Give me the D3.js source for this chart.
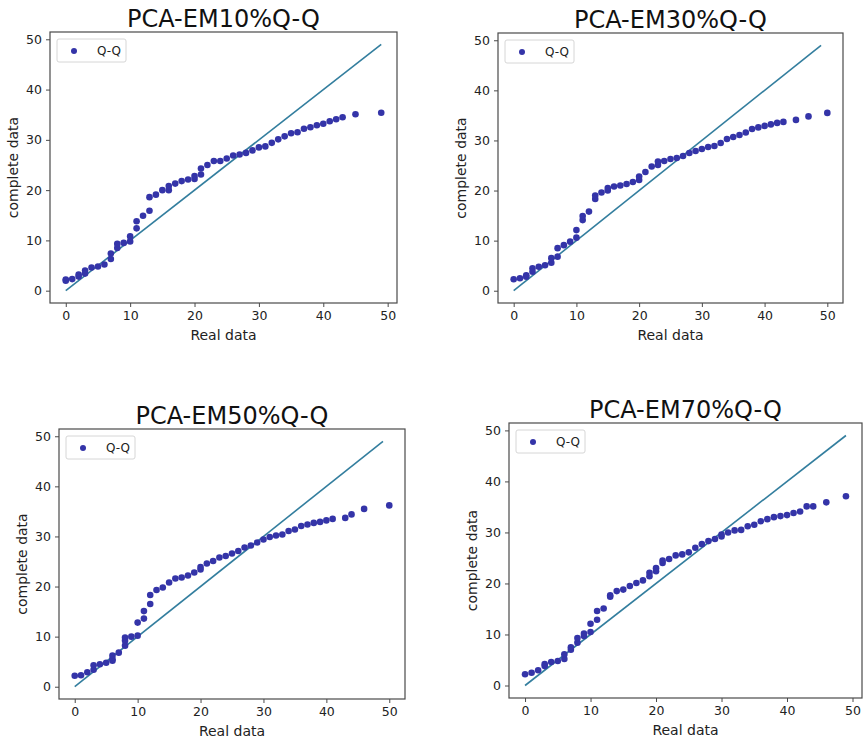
<!DOCTYPE html>
<html>
<head>
<meta charset="utf-8">
<script src="https://cdn.jsdelivr.net/npm/d3@7/dist/d3.min.js"></script>
<style>
  body { margin: 0; background: #fff; }
  svg { font-family: "DejaVu Sans", sans-serif; }
</style>
</head>
<body>
<div id="chart"></div>
<script>
// chart titles
var titles = ["PCA-EM10%Q-Q", "PCA-EM30%Q-Q", "PCA-EM50%Q-Q", "PCA-EM70%Q-Q"];
var ticks = [0, 10, 20, 30, 40, 50];

// reference line y = x
var refX = [0, 49];

// 10%
var x10 = [0, 0, 1, 2, 2, 3, 3, 4, 5, 6, 7, 7, 8, 8, 9, 10, 10, 11, 11, 12, 13, 13, 14, 15, 16, 16, 17, 18, 19, 20, 20, 21, 21, 22, 23, 24, 25, 26, 27, 28, 29, 30, 31, 32, 33, 34, 35, 36, 37, 38, 39, 40, 41, 42, 43, 45, 49];
var y10 = [2.2, 2.0, 2.3, 2.8, 3.2, 4.0, 3.4, 4.6, 4.8, 5.2, 6.3, 7.4, 8.5, 9.3, 9.5, 9.8, 10.8, 12.4, 13.8, 14.9, 15.9, 18.6, 19.1, 20.0, 20.0, 20.8, 21.3, 21.8, 22.1, 22.2, 22.8, 23.1, 24.3, 25.0, 25.8, 25.8, 26.3, 26.9, 27.1, 27.4, 27.9, 28.5, 28.7, 29.4, 30.1, 30.7, 31.3, 31.5, 32.2, 32.5, 32.9, 33.2, 33.7, 34.1, 34.5, 35.1, 35.4];

// 30%
var x30 = [0, 1, 2, 2, 3, 3, 4, 5, 6, 6, 7, 7, 8, 9, 10, 10, 11, 11, 12, 13, 13, 14, 15, 15, 16, 17, 18, 19, 20, 20, 21, 22, 23, 23, 24, 25, 26, 27, 28, 29, 30, 31, 32, 33, 34, 35, 36, 37, 38, 39, 40, 41, 42, 43, 45, 47, 50];
var y30 = [2.3, 2.5, 3.1, 2.8, 4.5, 3.8, 4.8, 5.1, 5.6, 6.5, 6.8, 8.5, 9.1, 9.8, 10.6, 12.1, 14.1, 14.9, 15.8, 18.3, 19.0, 19.6, 20.0, 20.5, 20.8, 21.0, 21.3, 21.7, 22.1, 22.8, 23.7, 24.8, 25.1, 25.8, 25.9, 26.3, 26.5, 26.9, 27.5, 27.9, 28.3, 28.7, 28.9, 29.5, 30.3, 30.7, 31.1, 31.6, 32.3, 32.6, 32.9, 33.2, 33.5, 33.7, 34.1, 34.8, 35.5];

// 50%
var x50 = [0, 1, 2, 3, 3, 4, 5, 6, 6, 6, 7, 8, 8, 8, 9, 10, 10, 11, 11, 12, 12, 13, 14, 15, 16, 17, 18, 19, 20, 20, 21, 22, 23, 24, 25, 26, 27, 28, 29, 30, 31, 32, 33, 34, 35, 36, 37, 38, 39, 40, 41, 43, 44, 46, 50];
var y50 = [2.2, 2.3, 2.9, 3.4, 4.3, 4.5, 4.8, 5.2, 5.5, 6.2, 6.8, 8.2, 9.2, 9.8, 10.0, 10.2, 12.8, 13.6, 15.1, 16.5, 18.3, 19.3, 19.8, 20.8, 21.6, 21.8, 22.2, 22.8, 23.4, 23.9, 24.6, 25.1, 25.8, 26.1, 26.6, 27.1, 27.8, 28.2, 28.8, 29.4, 29.9, 30.2, 30.4, 31.1, 31.4, 32.1, 32.4, 32.7, 32.9, 33.2, 33.5, 33.7, 34.4, 35.5, 36.2];

// 70%
var x70 = [0, 1, 2, 3, 3, 4, 5, 6, 6, 7, 7, 8, 8, 9, 9, 10, 10, 11, 11, 12, 13, 13, 14, 15, 16, 17, 18, 19, 19, 20, 20, 21, 21, 22, 23, 24, 25, 26, 27, 28, 29, 30, 30, 31, 32, 33, 34, 35, 36, 37, 38, 39, 40, 41, 42, 43, 44, 46, 49];
var y70 = [2.2, 2.5, 3.0, 3.8, 4.2, 4.6, 4.8, 5.2, 6.1, 7.0, 7.5, 8.4, 9.3, 9.7, 10.2, 10.5, 12.1, 12.9, 14.6, 15.1, 17.4, 17.7, 18.5, 18.8, 19.5, 20.1, 20.6, 21.4, 22.1, 22.4, 23.0, 24.0, 24.5, 24.8, 25.5, 25.7, 26.1, 27.0, 27.7, 28.3, 28.7, 29.2, 29.6, 30.0, 30.4, 30.5, 31.2, 31.5, 32.2, 32.6, 33.0, 33.2, 33.4, 33.8, 34.1, 35.1, 35.1, 35.9, 37.1];

var seriesX = [x10, x30, x50, x70];
var seriesY = [y10, y30, y50, y70];

// plot boxes in pixels: left, top, right, bottom
var boxes = [
    { left: 50,  top: 32,  right: 397, bottom: 303 },
    { left: 498, top: 33,  right: 843, bottom: 303 },
    { left: 59,  top: 429, right: 405, bottom: 699 },
    { left: 509, top: 423, right: 862, bottom: 698 }
];

var dotColor = "#3434a8";
var lineColor = "#337e9e";
var spineColor = "#4a4a4a";
var textColor = "#222";

var svg = d3.select("#chart").append("svg")
    .attr("width", 863)
    .attr("height", 742);

// matplotlib style 5% margins on the data range
function padded(lo, hi) {
    var m = (hi - lo) * 0.05;
    return [lo - m, hi + m];
}

titles.forEach(function(title, i) {
    var b = boxes[i];
    var xs = seriesX[i], ys = seriesY[i];
    var w = b.right - b.left, h = b.bottom - b.top;

    var xMax = Math.max(d3.max(xs), refX[1]);
    var yMax = Math.max(d3.max(ys), refX[1]);
    var xScale = d3.scaleLinear().domain(padded(0, xMax)).range([0, w]);
    var yScale = d3.scaleLinear().domain(padded(0, yMax)).range([h, 0]);

    var g = svg.append("g")
        .attr("transform", "translate(" + b.left + "," + b.top + ")");

    // reference line
    g.append("path")
        .datum(refX)
        .attr("d", d3.line().x(function(d) { return xScale(d); }).y(function(d) { return yScale(d); }))
        .attr("fill", "none")
        .attr("stroke", lineColor)
        .attr("stroke-width", 1.6);

    // points
    g.selectAll("circle.pt").data(xs).enter().append("circle")
        .attr("class", "pt")
        .attr("cx", function(d) { return xScale(d); })
        .attr("cy", function(d, j) { return yScale(ys[j]); })
        .attr("r", 3.3)
        .attr("fill", dotColor);

    // axes
    var xAxis = d3.axisBottom(xScale).tickValues(ticks).tickSize(4).tickPadding(4).tickSizeOuter(0);
    var yAxis = d3.axisLeft(yScale).tickValues(ticks).tickSize(4).tickPadding(4).tickSizeOuter(0);

    var xg = g.append("g").attr("transform", "translate(0," + h + ")").call(xAxis);
    var yg = g.append("g").call(yAxis);
    [xg, yg].forEach(function(a) {
        a.select(".domain").remove();
        a.selectAll("line").attr("stroke", spineColor);
        a.selectAll("text")
            .attr("fill", textColor)
            .style("font-size", "12.5px")
            .style("font-family", "DejaVu Sans");
    });

    // frame
    g.append("rect")
        .attr("width", w).attr("height", h)
        .attr("fill", "none")
        .attr("stroke", spineColor)
        .attr("stroke-width", 1.2);

    // title
    g.append("text")
        .attr("x", w / 2).attr("y", -5)
        .attr("text-anchor", "middle")
        .attr("fill", "#111")
        .style("font-size", "24px")
        .text(title);

    // axis labels
    g.append("text")
        .attr("x", w / 2).attr("y", h + 37)
        .attr("text-anchor", "middle")
        .attr("fill", textColor)
        .style("font-size", "14px")
        .text("Real data");

    g.append("text")
        .attr("transform", "translate(-32," + (h / 2) + ") rotate(-90)")
        .attr("text-anchor", "middle")
        .attr("fill", textColor)
        .style("font-size", "14px")
        .text("complete data");

    // legend
    var lg = g.append("g").attr("transform", "translate(7,7)");
    lg.append("rect")
        .attr("width", 69).attr("height", 23)
        .attr("rx", 2)
        .attr("fill", "#fff")
        .attr("stroke", "#d6d6d6");
    lg.append("circle")
        .attr("cx", 17).attr("cy", 12)
        .attr("r", 3)
        .attr("fill", dotColor);
    lg.append("text")
        .attr("x", 40).attr("y", 16)
        .attr("fill", textColor)
        .style("font-size", "12px")
        .text("Q-Q");
});
</script>
</body>
</html>
